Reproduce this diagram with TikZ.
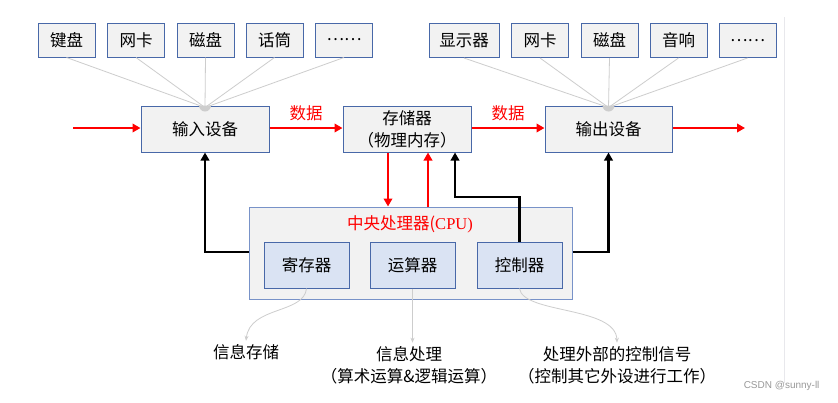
\documentclass[tikz,border=0pt]{standalone}
\usepackage{fontspec}
\setmainfont{Liberation Serif}
\newfontfamily\cjk{Noto Sans CJK SC}
\newfontfamily\wmfont{Liberation Sans}
\usetikzlibrary{arrows.meta}
\definecolor{boxfill}{RGB}{242,242,242}
\definecolor{boxblue}{RGB}{72,104,168}
\definecolor{cpublue}{RGB}{120,146,200}
\definecolor{innerfill}{RGB}{218,227,243}
\definecolor{hubgray}{RGB}{205,205,205}
\definecolor{pagegray}{RGB}{232,232,236}
\begin{document}
\begin{tikzpicture}[x=1pt,y=-1pt,
  txt/.style={font=\cjk\fontsize{16.5}{22}\selectfont},
  box/.style={txt,draw=boxblue,fill=boxfill,line width=1pt,inner sep=0pt,align=center},
  topbox/.style={box,minimum width=57pt,minimum height=34pt},
  bigbox/.style={box,minimum width=128pt,minimum height=46pt},
  innerbox/.style={box,fill=innerfill,minimum width=85pt,minimum height=46pt},
  cpubox/.style={draw=cpublue,fill=boxfill,line width=1pt,minimum width=323pt,minimum height=92pt,inner sep=0pt},
  redarr/.style={draw=red,line width=2.6pt,-{Triangle[length=8pt,width=8.5pt]}},
  blkarr/.style={draw=black,line width=2.6pt,-{Triangle[length=8pt,width=8.5pt]}},
  feed/.style={draw=hubgray,line width=0.8pt},
  note/.style={draw=hubgray,line width=0.8pt,-{Stealth[length=5pt,width=4pt]}},
  redlab/.style={font=\cjk\fontsize{16.5}{20}\selectfont,text=red},
  lab/.style={txt,align=center}
]
\useasboundingbox (0,0) rectangle (838,402);
\fill[white] (0,0) rectangle (838,402);
\draw[pagegray,line width=0.8pt] (784,17) -- (784,383);

% top-left boxes
\node[topbox] (k1) at (66.5,40) {键盘};
\node[topbox] (k2) at (136,40) {网卡};
\node[topbox] (k3) at (205.5,40) {磁盘};
\node[topbox] (k4) at (274.5,40) {话筒};
\node[topbox] (k5) at (344,40) {……};
% top-right boxes
\node[topbox,minimum width=70pt] (o1) at (464,40.5) {显示器};
\node[topbox] (o2) at (540,40.5) {网卡};
\node[topbox] (o3) at (609.5,40.5) {磁盘};
\node[topbox] (o4) at (678.5,40.5) {音响};
\node[topbox] (o5) at (747.5,40.5) {……};

% main boxes
\node[bigbox] (inp) at (205,129) {输入设备};
\node[bigbox] (mem) at (407,129) {存储器\\（物理内存）};
\node[bigbox,minimum width=127pt] (out) at (608.5,129) {输出设备};

% CPU
\node[cpubox] (cpu) at (410.5,253) {};
\node[font=\cjk\fontsize{16.5}{20}\selectfont,text=red] (cput) at (410,224) {中央处理器(\fontspec{Liberation Serif}CPU)};
\node[innerbox] (reg) at (306.5,265) {寄存器};
\node[innerbox] (alu) at (412.5,265) {运算器};
\node[innerbox] (ctl) at (519.5,265) {控制器};

% feeder lines
\coordinate (hin) at (inp.north);
\coordinate (hout) at (out.north);
\foreach \n in {k1,k2,k3,k4,k5} \draw[feed] (\n.south) -- ([yshift=-2pt]hin);
\foreach \n in {o1,o2,o3,o4,o5} \draw[feed] (\n.south) -- ([yshift=-2pt]hout);
\fill[hubgray] ([xshift=-6pt]hin) arc (180:360:6pt) -- cycle;
\fill[hubgray] ([xshift=-6pt]hout) arc (180:360:6pt) -- cycle;

% data flow
\coordinate (src) at (73,128);
\coordinate (dst) at (745,128);
\draw[redarr] (src) -- (src -| inp.west);
\draw[redarr] (inp.east |- src) -- (mem.west |- src) node[midway,above=3pt,redlab] (d1) {数据};
\draw[redarr] (mem.east |- src) -- (out.west |- src) node[midway,above=3pt,redlab] (d2) {数据};
\draw[redarr] (out.east |- src) -- (dst);

% memory <-> cpu
\draw[redarr] ([xshift=-19pt]mem.south) -- ([xshift=-19pt]mem.south |- cpu.north);
\draw[redarr] ([xshift=21pt]mem.south |- cpu.north) -- ([xshift=21pt]mem.south);

% control lines
\draw[blkarr] (ctl.north) -- (ctl.north |- 0,197) -| ([xshift=48pt]mem.south);
\draw[blkarr] (cpu.west |- 0,252) -| (inp.south);
\draw[blkarr] (cpu.east |- 0,252) -| (out.south);

% notes
\node[lab] (n1) at (246,352) {信息存储};
\node[lab] (n2) at (409,365) {信息处理\\（算术运算\&逻辑运算）};
\node[lab] (n3) at (617,365) {处理外部的控制信号\\（控制其它外设进行工作）};
\draw[note] (reg.south) .. controls (304,314) and (250,306) .. (n1.north);
\draw[note] (alu.south) -- (alu.south |- n2.north);
\draw[note] (ctl.south) .. controls (523,314) and (616,306) .. (n3.north);

\node[font=\wmfont\fontsize{10}{12}\selectfont,text=gray!80,anchor=east] (wm) at (823,386) {CSDN @sunny-ll};
\end{tikzpicture}
\end{document}
